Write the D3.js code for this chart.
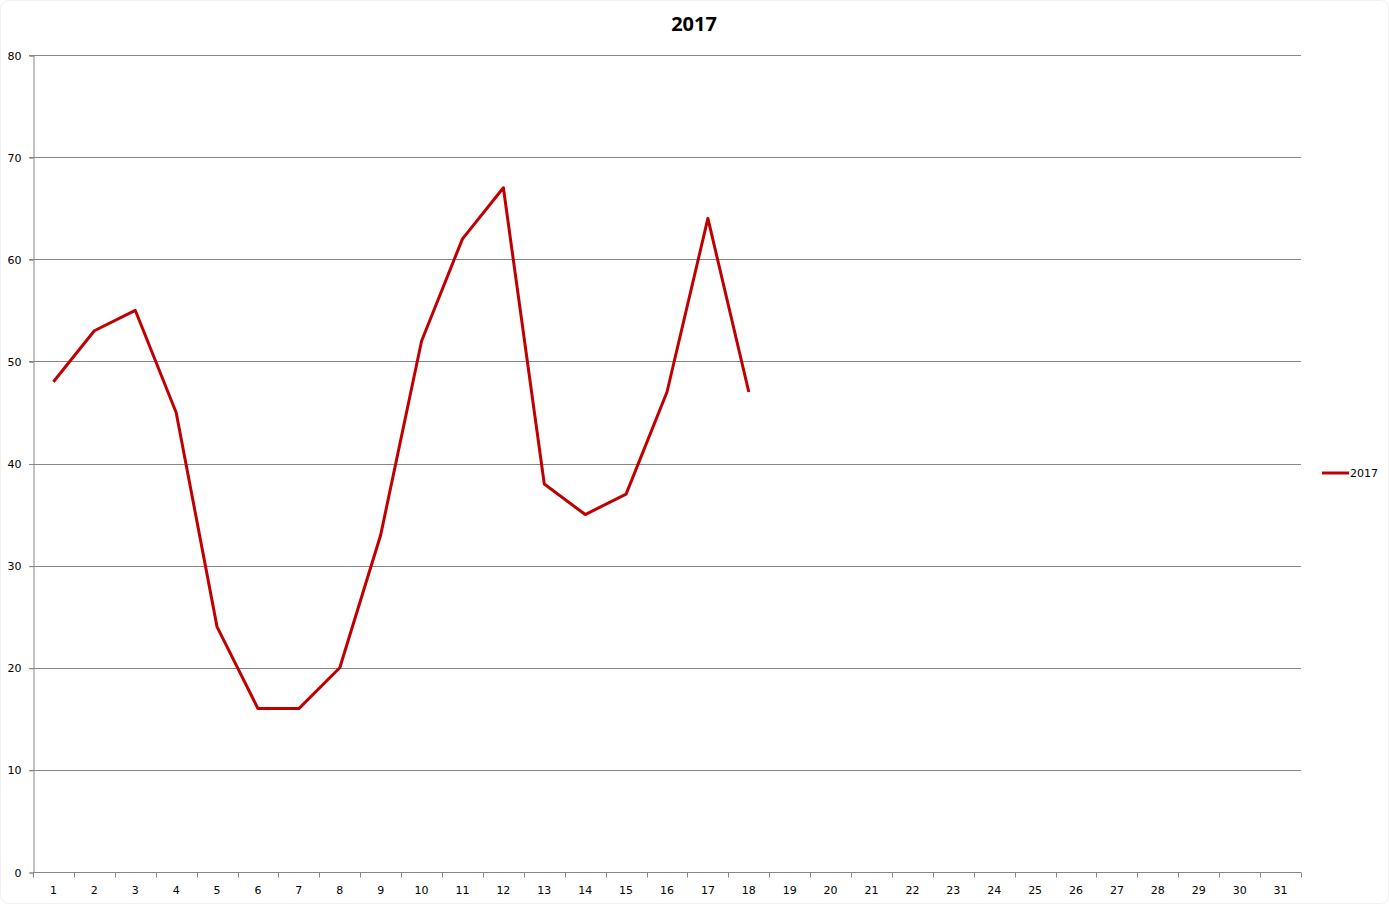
<!DOCTYPE html>
<html>
<head>
<meta charset="utf-8">
<script src="https://cdn.jsdelivr.net/npm/d3@7"></script>
<style>
  body { margin: 0; background: #fff; }
  svg { display: block; }
</style>
</head>
<body>
<div id="container"></div>
<script>
/* DATA */
const days = d3.range(1, 32).map(String);
const values2017 = [48, 53, 55, 45, 24, 16, 16, 20, 33, 52, 62, 67, 38, 35, 37, 47, 64, 47];
const yTicks = [0, 10, 20, 30, 40, 50, 60, 70, 80];
const seriesName = "2017";

/* CONSTANTS */
const width = 1389, height = 904;
const plot = { left: 33, right: 1301, top: 55, bottom: 872 };

const svg = d3.select("#container")
  .append("svg")
  .attr("width", width)
  .attr("height", height);

// chart area border (very faint, like the reference)
svg.append("rect")
  .attr("x", 0.5).attr("y", 0.5)
  .attr("width", width - 1).attr("height", height - 1)
  .attr("rx", 8)
  .attr("fill", "#fff")
  .attr("stroke", "#f0f0f0");

// scales
const x = d3.scaleBand()
  .domain(days)
  .range([plot.left, plot.right]);

const y = d3.scaleLinear()
  .domain([0, 80])
  .range([plot.bottom, plot.top]);

// gridlines
svg.append("g")
  .selectAll("line")
  .data(yTicks.filter(d => d > 0))
  .join("line")
  .attr("x1", plot.left - 4)
  .attr("x2", plot.right)
  .attr("y1", d => Math.round(y(d)) + 0.5)
  .attr("y2", d => Math.round(y(d)) + 0.5)
  .attr("stroke", "#868686");

// y axis
const yAxis = svg.append("g")
  .attr("transform", `translate(${plot.left + 0.5},0.5)`)
  .call(d3.axisLeft(y).tickValues(yTicks).tickSize(4).tickPadding(8));
yAxis.select(".domain").attr("stroke", "#868686");
yAxis.selectAll(".tick line").attr("stroke", "#868686");
yAxis.selectAll("text")
  .attr("fill", "#000")
  .style("font", "11px 'DejaVu Sans', sans-serif")
  .attr("dy", "0.32em");

// x axis: ticks between categories
const xAxis = svg.append("g")
  .attr("transform", `translate(0,${plot.bottom + 0.5})`);
xAxis.append("line")
  .attr("x1", plot.left).attr("x2", plot.right)
  .attr("stroke", "#868686");
xAxis.selectAll("line.tick")
  .data(days.concat(["end"]))
  .join("line")
  .attr("class", "tick")
  .attr("x1", (d, i) => Math.round(plot.left + i * x.bandwidth()) + 0.5)
  .attr("x2", (d, i) => Math.round(plot.left + i * x.bandwidth()) + 0.5)
  .attr("y1", 0).attr("y2", 5)
  .attr("stroke", "#868686");
xAxis.selectAll("text")
  .data(days)
  .join("text")
  .attr("x", d => x(d) + x.bandwidth() / 2)
  .attr("y", 21)
  .attr("text-anchor", "middle")
  .attr("fill", "#000")
  .style("font", "11px 'DejaVu Sans', sans-serif")
  .text(d => d);

// line
const line = d3.line()
  .x((d, i) => x(days[i]) + x.bandwidth() / 2)
  .y(d => y(d));

svg.append("path")
  .datum(values2017)
  .attr("d", line)
  .attr("fill", "none")
  .attr("stroke", "#c00000")
  .attr("stroke-width", 3)
  .attr("stroke-linejoin", "round");

// title
svg.append("text")
  .attr("x", 694)
  .attr("y", 31)
  .attr("text-anchor", "middle")
  .style("font", "bold 20px 'Open Sans', sans-serif")
  .attr("fill", "#000")
  .text(seriesName);

// legend
const legend = svg.append("g").attr("transform", "translate(1322,473)");
legend.append("line")
  .attr("x1", 0).attr("x2", 27)
  .attr("stroke", "#c00000")
  .attr("stroke-width", 3);
legend.append("text")
  .attr("x", 28)
  .attr("y", 4)
  .style("font", "11px 'DejaVu Sans', sans-serif")
  .attr("fill", "#000")
  .text(seriesName);
</script>
</body>
</html>
